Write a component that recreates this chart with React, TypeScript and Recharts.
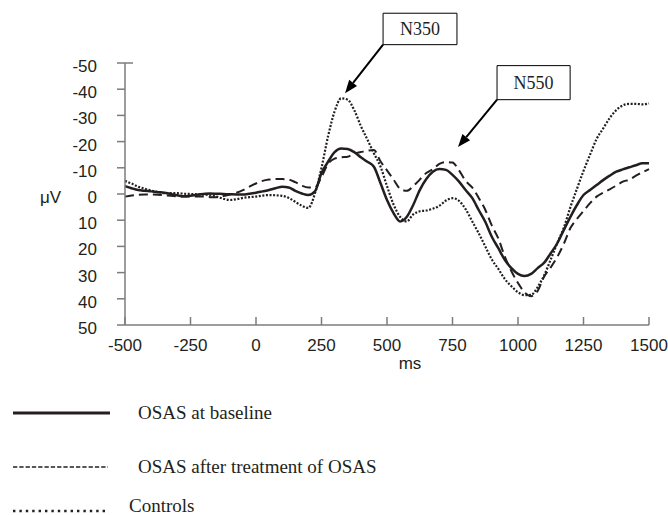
import { LineChart, Line, XAxis, YAxis, ReferenceArea, ReferenceLine } from 'recharts';

// ERP grand averages, time in ms, amplitude in µV (negative plotted upward)
const TIMES = [
  -500, -475, -450, -425, -400, -375, -350, -325, -300, -275, -250, -225, -200, -175, -150, -125,
  -100, -75, -50, -25, 0, 25, 50, 75, 100, 125, 150, 175, 200, 225, 250, 275, 300, 325, 350, 375,
  400, 425, 450, 475, 500, 525, 550, 575, 600, 625, 650, 675, 700, 725, 750, 775, 800, 825, 850,
  875, 900, 925, 950, 975, 1000, 1025, 1050, 1075, 1100, 1125, 1150, 1175, 1200, 1225, 1250, 1275,
  1300, 1325, 1350, 1375, 1400, 1425, 1450, 1475, 1500,
];

const BASELINE = [
  -3, -2.2, -1.5, -1.2, -1, -0.7, -0.5, 0, 0.5, 0.9, 0.7, 0.3, 0, -0.2, -0.1, 0,
  0.1, 0.2, 0.2, -0.1, -0.5, -1, -1.5, -2.2, -2.8, -2.5, -1.2, -0.2, 0.4, -1, -8, -12.3, -16, -17.4, -17.2, -16,
  -14, -12.3, -10.4, -4.2, 2.3, 7.3, 10.5, 8.8, 4.2, -1.5, -5.7, -8.5, -9.5, -9.2, -7.3, -4.7, -1.5, 1.5, 6.1,
  10.6, 16.3, 20.7, 25.2, 28.3, 30.5, 31.3, 30.5, 28.3, 26.2, 22.6, 18.8, 13.7, 8.7, 4.2, 0.4, -1.5,
  -3.4, -5.3, -7, -8.5, -9.4, -10.2, -11, -11.7, -11.7,
];

const TREATED = [
  1, 0.6, 0.3, 0.2, 0.2, 0.3, 0.5, 0.7, 0.9, 1, 1, 1, 1, 1.2, 1.2, 0.8,
  0.2, -0.5, -1.5, -2.8, -4, -5, -5.5, -5.7, -5.7, -5.5, -4.5, -3.2, -2.5, -2.5, -6.5, -11.5, -13.5, -14, -14.2, -15.5,
  -16, -16.5, -16.8, -12.5, -9, -5.5, -2, -1.2, -3, -5.5, -8, -9.5, -11.5, -12.2, -12, -9, -5, -2.5, 1.5,
  6, 12, 17, 24, 29.5, 34, 37.5, 39, 37, 31.5, 28, 24, 19, 13, 9.5, 6.5, 3.5,
  1, -0.5, -1.8, -3.2, -4.7, -5.5, -7, -8.3, -9.5,
];

const CONTROLS = [
  -5, -4, -2.8, -2, -1.3, -0.8, -0.3, -0.3, -0.3, -0.1, 0, 0.1, 0.2, 0.5, 1, 1.8,
  2.3, 2, 1.5, 1.2, 1, 0.6, 0.4, 0.5, 0.7, 1.5, 3, 4.5, 5.3, -0.2, -10, -22, -31.5, -36.5, -36, -32,
  -26, -20.8, -15.5, -10.5, -3, 4, 8.7, 10.5, 7.8, 6.6, 6.3, 5.6, 4.5, 2.5, 1.6, 2.6, 5.8, 10.4, 15,
  20, 25, 28.6, 32.5, 35.2, 37.5, 38.6, 38.5, 35.5, 31, 25, 18.7, 12.8, 5, -2, -8.8, -15,
  -21, -25, -29, -32, -33.8, -34.4, -34.4, -34.2, -34.6,
];

const X_TICKS = [-500, -250, 0, 250, 500, 750, 1000, 1250, 1500];
const Y_TICKS = [-50, -40, -30, -20, -10, 0, 10, 20, 30, 40, 50];

const SERIES = [
  { key: 'baseline', name: 'OSAS at baseline', width: 2.5, dash: undefined as string | undefined },
  { key: 'treated', name: 'OSAS after treatment of OSAS', width: 2, dash: '9 5' },
  { key: 'controls', name: 'Controls', width: 2.2, dash: '2 1.6' },
];

// annotation boxes and arrows, in data units
const PEAKS = [
  { label: 'N350', box: [485, 767, -69, -57], from: [485, -57], to: [340, -38.5] },
  { label: 'N550', box: [920, 1199, -49, -36], from: [920, -36], to: [771, -17.9] },
];

const table = TIMES.map((t, i) => ({
  t,
  baseline: BASELINE[i],
  treated: TREATED[i],
  controls: CONTROLS[i],
}));

const INK = '#231f20';
const AXIS = '#7c7c7c';
const SANS = "'Liberation Sans', Arial, sans-serif";
const SERIF = "'Liberation Serif', 'Times New Roman', serif";

function XTick({ x, y, payload }: any) {
  return (
    <g>
      <line x1={x} y1={y} x2={x} y2={y - 8} stroke={AXIS} strokeWidth={1.5} />
      <text x={x} y={y + 26} textAnchor="middle" fill={INK} fontSize={17} fontFamily={SANS}>
        {payload.value}
      </text>
    </g>
  );
}

function YTick({ x, y, payload }: any) {
  const top = payload.value === Y_TICKS[0];
  return (
    <g>
      <line x1={x - 8} y1={y} x2={top ? x + 8 : x} y2={y} stroke={AXIS} strokeWidth={1.5} />
      <text x={x - 28} y={y + 9} textAnchor="end" fill={INK} fontSize={17} fontFamily={SANS}>
        {payload.value}
      </text>
    </g>
  );
}

function Arrow({ x1, y1, x2, y2 }: any) {
  const a = Math.atan2(y2 - y1, x2 - x1);
  const len = 13;
  const half = 5;
  const bx = x2 - len * Math.cos(a);
  const by = y2 - len * Math.sin(a);
  const px = -Math.sin(a) * half;
  const py = Math.cos(a) * half;
  return (
    <g>
      <line x1={x1} y1={y1} x2={bx} y2={by} stroke="#000" strokeWidth={2} />
      <polygon points={`${x2},${y2} ${bx + px},${by + py} ${bx - px},${by - py}`} fill="#000" />
    </g>
  );
}

const boxLabel = (text: string) => ({ viewBox }: any) => (
  <text
    x={viewBox.x + viewBox.width / 2}
    y={viewBox.y + viewBox.height / 2 + 6}
    textAnchor="middle"
    fill={INK}
    fontSize={18}
    fontFamily={SERIF}
  >
    {text}
  </text>
);

function Legend() {
  const rows = [33, 87, 131];
  return (
    <svg width={668} height={135} style={{ position: 'absolute', top: 380, left: 0 }}>
      {SERIES.map((s, i) => (
        <g key={s.key}>
          <line
            x1={13}
            x2={i === 0 ? 110 : 108}
            y1={rows[i]}
            y2={rows[i]}
            stroke={INK}
            strokeWidth={i === 0 ? 3 : i === 1 ? 1.3 : 2.4}
            strokeDasharray={i === 0 ? undefined : i === 1 ? '4.3 2' : '2.4 4'}
          />
          <text
            x={i === 2 ? 129 : 138}
            y={rows[i] + (i === 2 ? 1 : 6)}
            fill={INK}
            fontSize={19}
            fontFamily={SERIF}
          >
            {s.name}
          </text>
        </g>
      ))}
    </svg>
  );
}

export default function App() {
  return (
    <div style={{ position: 'absolute', top: 0, left: 0, width: 668, height: 515, background: '#fff' }}>
      <LineChart width={668} height={380} data={table} margin={{ top: 63, right: 19, left: 0, bottom: 0 }}>
        <XAxis
          dataKey="t"
          type="number"
          domain={[-500, 1500]}
          ticks={X_TICKS}
          interval={0}
          height={55}
          stroke={AXIS}
          strokeWidth={1.5}
          tickLine={false}
          tickSize={0}
          tickMargin={0}
          tick={<XTick />}
          label={({ viewBox }: any) => (
            <text
              x={viewBox.x + viewBox.width / 2 + 23}
              y={viewBox.y + 44}
              textAnchor="middle"
              fill={INK}
              fontSize={17}
              fontFamily={SANS}
            >
              ms
            </text>
          )}
        />
        <YAxis
          type="number"
          domain={[-50, 50]}
          reversed
          ticks={Y_TICKS}
          interval={0}
          width={125}
          stroke={AXIS}
          strokeWidth={1.5}
          tickLine={false}
          tickSize={0}
          tickMargin={0}
          tick={<YTick />}
          label={({ viewBox }: any) => (
            <text
              x={viewBox.x + 40}
              y={viewBox.y + viewBox.height / 2 + 9}
              fill={INK}
              fontSize={17}
              fontFamily={SANS}
            >
              μV
            </text>
          )}
        />
        {SERIES.map((s) => (
          <Line
            key={s.key}
            dataKey={s.key}
            name={s.name}
            type="monotone"
            stroke={INK}
            strokeWidth={s.width}
            strokeDasharray={s.dash}
            dot={false}
            activeDot={false}
            isAnimationActive={false}
          />
        ))}
        {PEAKS.map((p) => (
          <ReferenceArea
            key={p.label}
            x1={p.box[0]}
            x2={p.box[1]}
            y1={p.box[2]}
            y2={p.box[3]}
            ifOverflow="visible"
            fill="#fff"
            fillOpacity={1}
            stroke="#000"
            strokeWidth={1}
            label={boxLabel(p.label)}
          />
        ))}
        {PEAKS.map((p) => (
          <ReferenceLine
            key={p.label + '-arrow'}
            segment={[
              { x: p.from[0], y: p.from[1] },
              { x: p.to[0], y: p.to[1] },
            ]}
            ifOverflow="visible"
            shape={(props: any) => <Arrow {...props} />}
          />
        ))}
      </LineChart>
      <Legend />
    </div>
  );
}
